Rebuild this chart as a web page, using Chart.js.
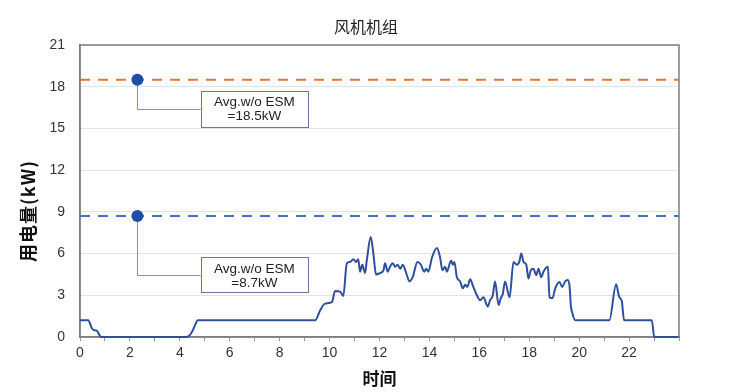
<!DOCTYPE html>
<html>
<head>
<meta charset="utf-8">
<script src="https://cdn.jsdelivr.net/npm/chart.js@4.4.1/dist/chart.umd.min.js"></script>
<style>
  html, body { margin: 0; padding: 0; background: #ffffff; }
  #wrap { width: 734px; height: 392px; position: relative; }
</style>
</head>
<body>
<div id="wrap"><canvas id="c" width="734" height="392"></canvas></div>
<script>
// ---- data ----
const hours = [0, 0.33, 0.47, 0.55, 0.67, 0.85, 4.28, 4.45, 4.6, 4.72, 9.42,
  9.62, 9.82, 10.09, 10.22, 10.42, 10.55, 10.69, 10.82, 10.95, 11.06, 11.15, 11.22, 11.31, 11.42, 11.49,
  11.65, 11.76, 11.86, 12.02, 12.16, 12.22, 12.33, 12.42, 12.53, 12.63, 12.73, 12.83, 12.93,
  13.07, 13.2, 13.33, 13.52, 13.66, 13.79, 13.87, 13.96, 14.1, 14.3, 14.43, 14.52, 14.63, 14.7,
  14.87, 14.94, 15.0, 15.1, 15.23, 15.34, 15.43, 15.52, 15.63, 15.76, 15.9, 16.03, 16.16, 16.34,
  16.43, 16.54, 16.63, 16.77, 16.86, 16.94, 17.03, 17.21, 17.37, 17.5, 17.6, 17.68, 17.77, 17.88,
  17.97, 18.06, 18.17, 18.28, 18.37, 18.48, 18.57, 18.75, 18.81, 18.93, 19.04, 19.21, 19.32, 19.44,
  19.53, 19.61, 19.67, 19.73, 19.84, 21.21, 21.48, 21.6, 21.71, 21.8, 22.91, 23.01, 23.98];
const power = [1.2, 1.2, 0.65, 0.5, 0.45, 0, 0, 0.25, 0.8, 1.2, 1.2,
  1.9, 2.4, 2.5, 3.3, 3.26, 2.95, 5.3, 5.4, 5.6, 5.4, 5.6, 4.7, 5.2, 4.6, 5.5,
  7.2, 5.9, 4.5, 4.6, 4.8, 5.3, 4.7, 5.05, 5.3, 5.05, 5.2, 4.9, 5.2,
  4.6, 4.0, 4.3, 5.4, 5.2, 4.7, 4.9, 4.7, 5.7, 6.4, 5.7, 4.8, 5.05, 4.7,
  5.5, 5.2, 5.4, 4.3, 4.0, 3.5, 3.75, 3.6, 4.15, 3.6, 3.0, 2.65, 2.85, 2.2,
  2.65, 3.0, 4.0, 2.3, 2.8, 3.1, 4.0, 2.85, 5.4, 5.2, 5.4, 6.0, 5.4, 5.2,
  4.2, 4.8, 4.9, 4.45, 4.9, 4.3, 4.7, 5.05, 2.85, 2.8, 3.5, 3.95, 3.6, 4.0,
  4.1, 3.75, 2.2, 1.7, 1.2, 1.2, 3.8, 2.9, 2.55, 1.2, 1.2, 0, 0];
const avgValues = [18.5, 8.7];
const avgLabels = ["Avg.w/o ESM", "Avg.w/o ESM"];
const avgTexts = ["=18.5kW", "=8.7kW"];
const markerHour = 2.3;
const yTicks = [0, 3, 6, 9, 12, 15, 18, 21];
const xTickLabels = ["0", "2", "4", "6", "8", "10", "12", "14", "16", "18", "20", "22"];
const chartTitle = "风机机组";
const yTitle = "用电量(kW)";

// ---- build datasets ----
const linePts = hours.map((h, i) => ({ x: h, y: power[i] }));
const avgColors = ["#e2733a", "#4472c4"];

// annotation boxes (in data coordinates)
const boxes = [
  { x0: 4.84, x1: 9.13, y0: 17.71, y1: 15.12 },
  { x0: 4.84, x1: 9.13, y0: 5.73, y1: 3.19 }
];

const FONT = "'Liberation Sans Narrow', 'Liberation Sans', 'Noto Sans', sans-serif";
const CJK = "'Noto Sans CJK SC', 'Noto Sans', sans-serif";

const annotPlugin = {
  id: 'annot',
  beforeDatasetsDraw(chart) {
    const { ctx, chartArea: a } = chart;
    ctx.save();
    ctx.strokeStyle = '#7f7f7f';
    ctx.lineWidth = 1.5;
    ctx.strokeRect(a.left, a.top, a.right - a.left, a.bottom - a.top);
    ctx.restore();
  },
  afterDraw(chart) {
    const { ctx } = chart;
    // chart title
    ctx.save();
    ctx.fillStyle = '#222222';
    ctx.font = "16px " + CJK;
    ctx.textAlign = 'center';
    ctx.textBaseline = 'middle';
    ctx.fillText(chartTitle, 366, 27);
    ctx.restore();
    // y axis title
    ctx.save();
    ctx.translate(28, 211);
    ctx.rotate(-Math.PI / 2);
    ctx.fillStyle = '#111111';
    ctx.font = "bold 18px " + CJK;
    try { ctx.letterSpacing = '1px'; } catch (e) {}
    ctx.textAlign = 'center';
    ctx.textBaseline = 'middle';
    ctx.fillText(yTitle, 0, 0);
    ctx.restore();
  },
  afterDatasetsDraw(chart) {
    const { ctx, scales: { x, y } } = chart;
    ctx.save();
    boxes.forEach((b, i) => {
      const mx = x.getPixelForValue(markerHour);
      const my = y.getPixelForValue(avgValues[i]);
      const bl = x.getPixelForValue(b.x0), br = x.getPixelForValue(b.x1);
      const bt = y.getPixelForValue(b.y0), bb = y.getPixelForValue(b.y1);
      const cy = (bt + bb) / 2;
      ctx.strokeStyle = '#8494b8';
      ctx.lineWidth = 1;
      ctx.beginPath();
      ctx.moveTo(Math.round(mx) + 0.5, my);
      ctx.lineTo(Math.round(mx) + 0.5, Math.round(cy) + 0.5);
      ctx.lineTo(bl, Math.round(cy) + 0.5);
      ctx.stroke();
      ctx.fillStyle = '#ffffff';
      ctx.fillRect(bl, bt, br - bl, bb - bt);
      ctx.strokeStyle = '#6b7894';
      ctx.strokeRect(Math.round(bl) + 0.5, Math.round(bt) + 0.5, Math.round(br - bl), Math.round(bb - bt));
      ctx.fillStyle = '#222222';
      ctx.font = "13.5px 'Liberation Sans', 'Noto Sans', sans-serif";
      ctx.textAlign = 'center';
      ctx.textBaseline = 'middle';
      const cx = (bl + br) / 2;
      ctx.fillText(avgLabels[i], cx, bt + 11.5);
      ctx.fillText(avgTexts[i], cx, bt + 26);
      // marker on top
      ctx.fillStyle = '#1f4ea8';
      ctx.beginPath();
      ctx.arc(mx, my, 6, 0, Math.PI * 2);
      ctx.fill();
    });
    ctx.restore();
  }
};

new Chart(document.getElementById('c'), {
  type: 'line',
  data: {
    datasets: [
      {
        data: linePts,
        borderColor: '#2f4f9f',
        borderWidth: 2,
        pointRadius: 0,
        cubicInterpolationMode: 'monotone',
        clip: 3,
        fill: false
      },
      ...avgValues.map((v, i) => ({
        data: [{ x: 0, y: v }, { x: 24, y: v }],
        borderColor: avgColors[i],
        borderWidth: 2,
        borderDash: [10, 8],
        pointRadius: 0,
        fill: false
      }))
    ]
  },
  options: {
    responsive: false,
    animation: false,
    layout: { padding: { left: 0, right: 55, top: 45, bottom: 0 } },
    plugins: {
      legend: { display: false },
      tooltip: { enabled: false },
      title: { display: false }
    },
    scales: {
      x: {
        type: 'linear',
        min: 0, max: 24,
        afterFit(s) { s.height = 55; },
        ticks: {
          stepSize: 1,
          autoSkip: false,
          maxRotation: 0,
          padding: 4,
          color: '#333333',
          font: { family: FONT, size: 14 },
          callback: (v) => (v % 2 === 0 && xTickLabels.includes(String(v))) ? String(v) : ''
        },
        grid: { drawOnChartArea: false, tickLength: 4, color: '#999999' },
        border: { color: '#7f7f7f', width: 1.5 },
        title: {
          display: true,
          text: '时间',
          color: '#111111',
          font: { family: CJK, size: 17, weight: 'bold' },
          padding: { top: 0, bottom: 3 }
        }
      },
      y: {
        min: 0, max: 21,
        afterFit(s) { s.width = 80; },
        afterBuildTicks(s) { s.ticks = yTicks.map(v => ({ value: v })); },
        ticks: {
          padding: 15,
          color: '#333333',
          font: { family: FONT, size: 14 }
        },
        grid: { color: '#e2e2e2', drawTicks: false, lineWidth: 1 },
        border: { color: '#7f7f7f', width: 1.5 },
        title: { display: false }
      }
    }
  },
  plugins: [annotPlugin]
});
</script>
</body>
</html>
